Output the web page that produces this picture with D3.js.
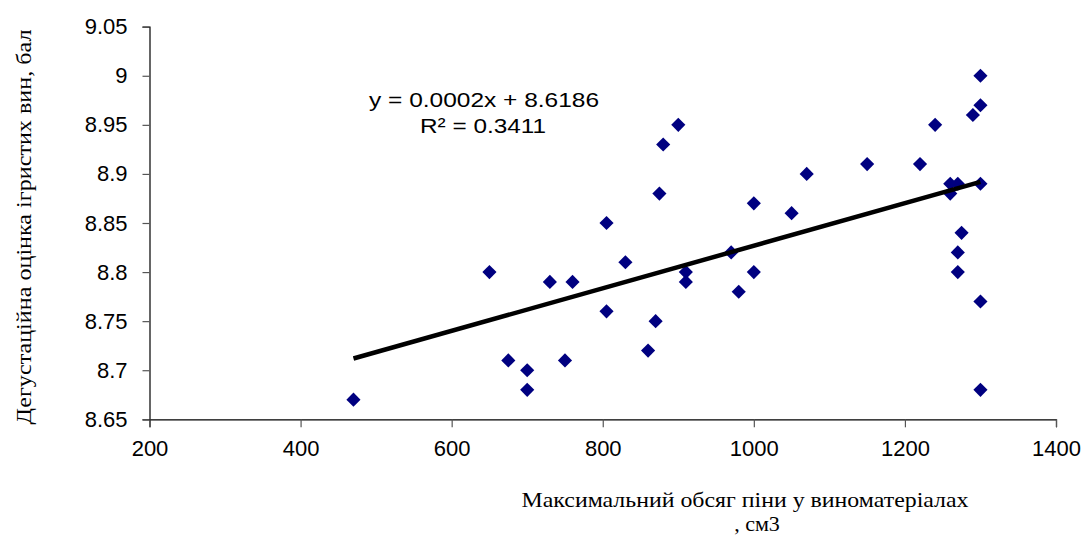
<!DOCTYPE html>
<html>
<head>
<meta charset="utf-8">
<script src="https://cdn.jsdelivr.net/npm/d3@7"></script>
<style>
  html, body { margin: 0; padding: 0; background: #fff; }
  svg { display: block; }
</style>
</head>
<body>
<svg id="chart" width="1087" height="538"></svg>
<script>
// Data
const foamVolume = [470, 650, 675, 700, 700, 730, 750, 760, 805, 805, 830, 860, 870, 875, 880, 900, 910, 910, 970, 980, 1000, 1000, 1050, 1070, 1150, 1220, 1240, 1260, 1260, 1270, 1275, 1270, 1270, 1290, 1300, 1300, 1300, 1300, 1300];
const tastingScore = [8.67, 8.80, 8.71, 8.70, 8.68, 8.79, 8.71, 8.79, 8.85, 8.76, 8.81, 8.72, 8.75, 8.88, 8.93, 8.95, 8.80, 8.79, 8.82, 8.78, 8.87, 8.80, 8.86, 8.90, 8.91, 8.91, 8.95, 8.89, 8.88, 8.89, 8.84, 8.82, 8.80, 8.96, 9.00, 8.97, 8.89, 8.77, 8.68];
const xTicks = [200, 400, 600, 800, 1000, 1200, 1400];
const yTicks = [8.65, 8.7, 8.75, 8.8, 8.85, 8.9, 8.95, 9, 9.05];
const xTickLabels = ["200", "400", "600", "800", "1000", "1200", "1400"];
const yTickLabels = ["8.65", "8.7", "8.75", "8.8", "8.85", "8.9", "8.95", "9", "9.05"];
const equationLines = ["y = 0.0002x + 8.6186", "R\u00B2 = 0.3411"];
const xTitleLines = ["Максимальний обсяг піни у виноматеріалах", ", см3"];
const yTitle = "Дегустаційна оцінка ігристих вин, бал";

(function () {
const svg = d3.select("#chart");
const mLeft = 149.5, mRight = 1056, mTop = 26.7, mBottom = 419.3;

const x = d3.scaleLinear().domain([200, 1400]).range([mLeft, mRight]);
const y = d3.scaleLinear().domain([8.65, 9.05]).range([mBottom, mTop]);

// Y axis
const yAxis = svg.append("g")
  .attr("transform", `translate(${mLeft},0)`)
  .call(d3.axisLeft(y).tickValues(yTicks).tickSize(7).tickPadding(15)
    .tickFormat((d, i) => yTickLabels[i]));
yAxis.select(".domain").attr("stroke", "#000").attr("stroke-width", 1.2);
yAxis.selectAll(".tick line").attr("stroke", "#555").attr("stroke-width", 1.2);
yAxis.selectAll(".tick text")
  .attr("font-family", "Liberation Sans, Arial, sans-serif")
  .attr("font-size", 22).attr("fill", "#000");

// X axis
const xAxis = svg.append("g")
  .attr("transform", `translate(0,${mBottom})`)
  .call(d3.axisBottom(x).tickValues(xTicks).tickSize(8).tickPadding(13)
    .tickFormat((d, i) => xTickLabels[i]));
xAxis.select(".domain").attr("stroke", "#000").attr("stroke-width", 1.2);
xAxis.selectAll(".tick line").attr("stroke", "#555").attr("stroke-width", 1.2);
xAxis.selectAll(".tick text")
  .attr("font-family", "Liberation Sans, Arial, sans-serif")
  .attr("font-size", 22).attr("fill", "#000");

// Points
const pts = foamVolume.map((v, i) => [v, tastingScore[i]]);
const diamond = d3.symbol().type(d3.symbolSquare).size(100);
svg.append("g").selectAll("path")
  .data(pts).join("path")
  .attr("d", diamond)
  .attr("transform", d => `translate(${x(d[0])},${y(d[1])}) rotate(45)`)
  .attr("fill", "#000080");

// Linear trend line (least squares from the data)
const mx = d3.mean(foamVolume), my = d3.mean(tastingScore);
let sxy = 0, sxx = 0;
pts.forEach(([a, b]) => { sxy += (a - mx) * (b - my); sxx += (a - mx) * (a - mx); });
const slope = sxy / sxx, intercept = my - slope * mx;
const [x0, x1] = d3.extent(foamVolume);
svg.append("line")
  .attr("x1", x(x0)).attr("y1", y(intercept + slope * x0))
  .attr("x2", x(x1)).attr("y2", y(intercept + slope * x1))
  .attr("stroke", "#000").attr("stroke-width", 4.5);

// Equation label
const eq = svg.append("g")
  .attr("font-family", "Liberation Sans, Arial, sans-serif")
  .attr("font-size", 21).attr("fill", "#000").attr("text-anchor", "middle");
eq.append("text").attr("x", 484).attr("y", 107)
  .attr("textLength", 230).attr("lengthAdjust", "spacingAndGlyphs")
  .text(equationLines[0]);
eq.append("text").attr("x", 483).attr("y", 133)
  .attr("textLength", 126).attr("lengthAdjust", "spacingAndGlyphs")
  .text(equationLines[1]);

// X title
const xt = svg.append("g")
  .attr("font-family", "Liberation Serif, Times New Roman, serif")
  .attr("font-size", 22).attr("fill", "#000").attr("text-anchor", "middle");
xt.append("text").attr("x", 745).attr("y", 507)
  .attr("textLength", 447).attr("lengthAdjust", "spacingAndGlyphs")
  .text(xTitleLines[0]);
xt.append("text").attr("x", 757).attr("y", 531).text(xTitleLines[1]);

// Y title
svg.append("text")
  .attr("transform", "translate(31,227) rotate(-90)")
  .attr("font-family", "Liberation Serif, Times New Roman, serif")
  .attr("font-size", 22).attr("fill", "#000").attr("text-anchor", "middle")
  .attr("textLength", 395).attr("lengthAdjust", "spacingAndGlyphs")
  .text(yTitle);
})();
</script>
</body>
</html>
